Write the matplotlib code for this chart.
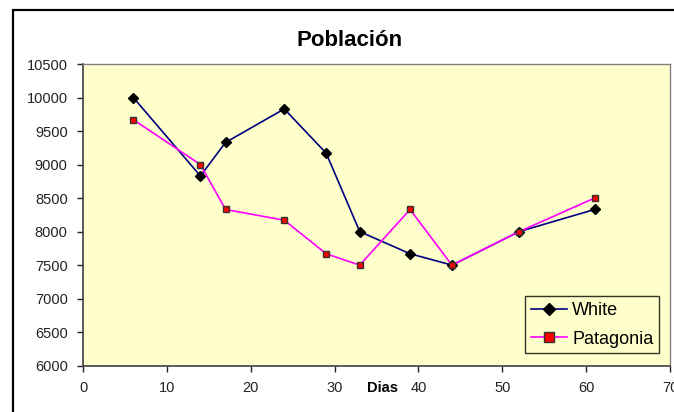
import matplotlib
matplotlib.use("Agg")
import matplotlib.pyplot as plt
from matplotlib.patches import Rectangle

dias = [6, 14, 17, 24, 29, 33, 39, 44, 52, 61]
white = [10000, 8830, 9330, 9830, 9170, 8000, 7670, 7500, 8000, 8330]
patagonia = [9670, 9000, 8330, 8170, 7670, 7500, 8330, 7500, 8000, 8500]
xticks = [0, 10, 20, 30, 40, 50, 60, 70]
yticks = [6000, 6500, 7000, 7500, 8000, 8500, 9000, 9500, 10000, 10500]

plt.rcParams['font.family'] = ['Liberation Sans', 'DejaVu Sans']

fig = plt.figure(figsize=(6.74, 4.12), dpi=100)
fig.patches.append(Rectangle((13/674, -0.1), 1.2, 1 - 10/412 + 0.1, transform=fig.transFigure,
                             fill=False, edgecolor='black', lw=1.6, zorder=0))
ax = fig.add_axes([83/674, 1 - 365.7/412, 587/674, (365.7 - 64)/412])
ax.set_facecolor('#FFFFCC')
ax.plot(dias, white, color='#000080', lw=1.2, marker='D', ms=5, mfc='black', mec='black', label='White')
ax.plot(dias, patagonia, color='#FF00FF', lw=1.2, marker='s', ms=5, mfc='#FF0000', mec='#333333', mew=1, label='Patagonia')
ax.set_xlim(0, 70)
ax.set_ylim(6000, 10500)
ax.set_xticks(xticks)
ax.set_yticks(yticks)
ax.tick_params(direction='out', length=4, width=1, labelsize=10.5, colors='#222222', pad=7)
for s in ['top', 'right']:
    ax.spines[s].set_color('#808080')
    ax.spines[s].set_linewidth(1)
for s in ['left', 'bottom']:
    ax.spines[s].set_color('#404040')
    ax.spines[s].set_linewidth(1.2)
fig.text(350/674, 1 - 40/412, 'Población', ha='center', va='center', fontsize=16, fontweight='bold')
fig.text(383/674, 1 - 388/412, 'Dias', ha='center', va='center', fontsize=10.5, fontweight='bold')
leg = ax.legend(loc='lower right', bbox_to_anchor=(659/674, 1 - 353/412), bbox_transform=fig.transFigure,
                fontsize=13, frameon=True, fancybox=False, edgecolor='black', facecolor='#FFFFCC',
                borderpad=0.3, handlelength=2.0, handletextpad=0.3, labelspacing=0.65, borderaxespad=0,
                markerscale=1.3)
leg.get_frame().set_linewidth(1)
fig.savefig('out.png', dpi=100)
